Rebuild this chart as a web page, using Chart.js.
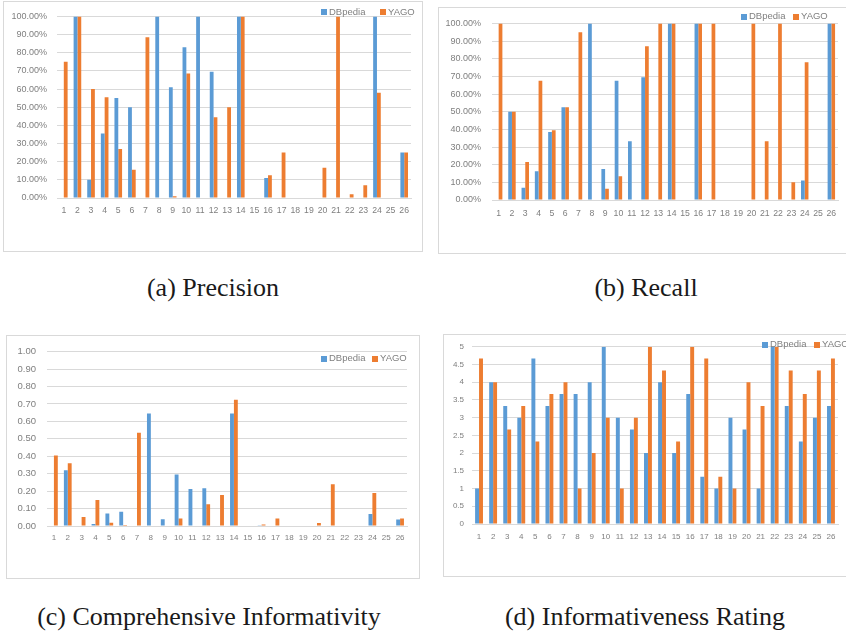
<!DOCTYPE html>
<html>
<head>
<meta charset="utf-8">
<script src="https://cdn.jsdelivr.net/npm/chart.js@4.4.0/dist/chart.umd.min.js"></script>
<style>
body { margin:0; width:846px; height:632px; overflow:hidden; background:#fff; position:relative; font-family:"Liberation Sans", Arial, sans-serif; }
.box { position:absolute; border:1px solid #d9d9d9; box-sizing:border-box; }
canvas { position:absolute; }
.leg { position:absolute; font-size:9.5px; color:#7f7f7f; line-height:12px; white-space:nowrap; }
.leg i { display:inline-block; width:6px; height:6px; margin-right:2px; vertical-align:-0.5px; }
.cap { position:absolute; font-family:"Liberation Serif", serif; font-size:26px; color:#1a1a1a; transform:translate(-50%,-50%); white-space:nowrap; }
</style>
</head>
<body>
<script>
// numery pytań 1..26
const categories = ['1','2','3','4','5','6','7','8','9','10','11','12','13','14','15','16','17','18','19','20','21','22','23','24','25','26'];
const seriesNames = ['DBpedia', 'YAGO'];

// (a) precision w %
const precisionDBpedia = [0,100,10,35.5,55,50,0,100,61,83,100,69.5,0,100,0,11,0,0,0,0,0,0,0,100,0,25];
const precisionYAGO = [75,100,60,55.5,27,15.5,88.5,0,1,68.5,0,44.5,50,100,0,12.5,25,0,0,16.7,100,2,7,58,0,25];

// (b) recall w %
const recallDBpedia = [0,50,7,16.3,38.5,52.5,0,100,17.5,67.5,33.3,69.5,0,100,0,100,0,0,0,0,0,0,0,11,0,100];
const recallYAGO = [100,50,21.5,67.5,39.5,52.5,95,0,6.3,13.5,0,87,100,100,0,100,100,0,0,100,33.3,100,10,78,0,100];

// (c) comprehensive informativity
const infoDBpedia = [0,0.32,0,0.011,0.072,0.082,0,0.645,0.039,0.296,0.212,0.216,0,0.645,0,0.005,0,0,0,0,0,0,0,0.069,0,0.037];
const infoYAGO = [0.405,0.36,0.052,0.149,0.019,0.006,0.535,0,0,0.043,0,0.125,0.178,0.725,0,0.009,0.043,0,0,0.017,0.24,0,0,0.19,0,0.043];

// (d) informativeness rating (0-5)
const ratingDBpedia = [1,4,3.33,3,4.67,3.33,3.67,3.67,4,5,3,2.67,2,4,2,3.67,1.33,1,3,2.67,1,5,3.33,2.33,3,3.33];
const ratingYAGO = [4.67,4,2.67,3.33,2.33,3.67,4,1,2,3,1,3,5,4.33,2.33,5,4.67,1.33,1,4,3.33,5,4.33,3.67,4.33,4.67];

const colors = ['#5b9bd5', '#ed7d31'];
const tickColor = '#7f7f7f';
const gridColor = '#d9d9d9';

const pct = v => Number(v).toFixed(2) + '%';
const dec = v => Number(v).toFixed(2);

// box = ramka wykresu, area = obszar rysowania [l,t,r,b]
const panels = [
   { box:[3,1,420,251], area:[57,14,411,198], data:[precisionDBpedia, precisionYAGO], max:100, step:10, fmt:pct,
     yFont:9, xFont:8.7, yPad:10, xPad:7, legend:[[321,11.5],[380,11.5]], caption:['(a) Precision',213,288] },
   { box:[438,7,420,247], area:[492,20,838,200], data:[recallDBpedia, recallYAGO], max:100, step:10, fmt:pct,
     yFont:9, xFont:8.7, yPad:11, xPad:8, legend:[[741,16],[793,16]], caption:['(b) Recall',646,288] },
   { box:[6,335,414,244], area:[47,347,407,526], data:[infoDBpedia, infoYAGO], max:1, step:0.1, fmt:dec,
     yFont:9.5, xFont:8, yPad:11, xPad:7, legend:[[321,358],[372,358]], caption:['(c) Comprehensive Informativity',209,617] },
   { box:[443,334,420,243], area:[472,346,838,524], data:[ratingDBpedia, ratingYAGO], max:5, step:0.5, fmt:v => v,
     yFont:8, xFont:8, yPad:8, xPad:8, legend:[[762,344],[814,344]], caption:['(d) Informativeness Rating',645,617] }
];

Chart.defaults.font.family = '"Liberation Sans", Arial, sans-serif';

panels.forEach(p => {
   const [bx, by, bw, bh] = p.box;
   const [l, t, r, b] = p.area;

   const box = document.createElement('div');
   box.className = 'box';
   Object.assign(box.style, { left: bx + 'px', top: by + 'px', width: bw + 'px', height: bh + 'px' });
   document.body.appendChild(box);

   const canvas = document.createElement('canvas');
   canvas.width = bw;
   canvas.height = bh;
   canvas.style.left = bx + 'px';
   canvas.style.top = by + 'px';
   document.body.appendChild(canvas);

   new Chart(canvas, {
      type: 'bar',
      data: {
         labels: categories,
         datasets: seriesNames.map((name, i) => ({
            label: name,
            data: p.data[i],
            backgroundColor: colors[i],
            categoryPercentage: 0.56,
            barPercentage: 1.0
         }))
      },
      options: {
         responsive: false,
         animation: false,
         layout: { padding: { left: 0, top: t - by, right: bx + bw - r, bottom: 0 } },
         plugins: { legend: { display: false }, tooltip: { enabled: false } },
         scales: {
            x: {
               grid: { display: false, drawTicks: false },
               border: { color: gridColor },
               ticks: { color: tickColor, font: { size: p.xFont }, padding: p.xPad, autoSkip: false, maxRotation: 0 },
               afterFit: s => { s.height = by + bh - b; }
            },
            y: {
               min: 0, max: p.max,
               grid: { color: gridColor, drawTicks: false },
               border: { display: false },
               ticks: { stepSize: p.step, color: tickColor, font: { size: p.yFont }, padding: p.yPad, callback: p.fmt },
               afterFit: s => { s.width = l - bx; }
            }
         }
      }
   });

   // legenda w html, nachodzi na obszar wykresu jak w excelu
   seriesNames.forEach((name, i) => {
      const item = document.createElement('div');
      item.className = 'leg';
      item.style.left = p.legend[i][0] + 'px';
      item.style.top = (p.legend[i][1] - 6) + 'px';
      item.innerHTML = `<i style="background:${colors[i]}"></i>${name}`;
      document.body.appendChild(item);
   });

   const cap = document.createElement('div');
   cap.className = 'cap';
   cap.textContent = p.caption[0];
   cap.style.left = p.caption[1] + 'px';
   cap.style.top = p.caption[2] + 'px';
   document.body.appendChild(cap);
});
</script>
</body>
</html>
